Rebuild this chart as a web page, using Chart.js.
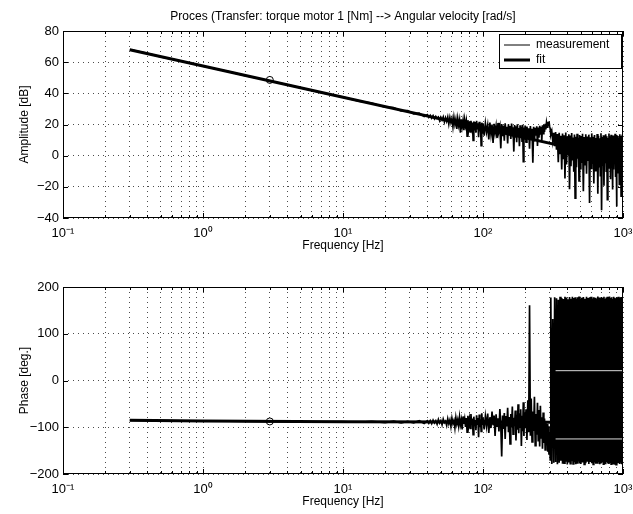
<!DOCTYPE html>
<html>
<head>
<meta charset="utf-8">
<script src="https://cdn.jsdelivr.net/npm/chart.js@4.4.1/dist/chart.umd.min.js"></script>
<style>
html, body { margin: 0; padding: 0; background: #fff; }
body { width: 633px; height: 514px; position: relative; overflow: hidden; }
canvas { position: absolute; left: 0; }
#amplitude { top: 0; }
#phase { top: 256px; }
</style>
</head>
<body>
<canvas id="amplitude" width="633" height="257"></canvas>
<canvas id="phase" width="633" height="257"></canvas>
<script>
var titleText = 'Proces (Transfer: torque motor 1 [Nm] --> Angular velocity [rad/s]';
var legendNames = ['measurement', 'fit'];

// x axis: decades with minor steps, labels 10^n
var decadeTicks = [0.1, 1, 10, 100, 1000];
var decadeLabels = ['10\u207B\u00B9', '10\u2070', '10\u00B9', '10\u00B2', '10\u00B3'];
var minorSteps = [2, 3, 4, 5, 6, 7, 8, 9];

// measured frequency response
var measFreq = [
  0.3, 0.4, 0.5, 0.7, 1, 1.5, 2, 3, 5, 7,
  10, 13, 16, 20, 23, 26, 29, 32, 35, 38,
  40, 41, 42, 43, 44, 45, 46, 47, 48, 49,
  50, 51, 52, 53, 54, 55, 56, 57, 58, 59,
  60, 61, 62, 63, 64, 65, 66, 67, 68, 69,
  70, 71, 72, 73, 74, 75, 76, 77, 78, 79,
  80, 81, 82, 83, 84, 85, 86, 87, 88, 89,
  90, 91, 92, 93, 94, 95, 96, 97, 98, 99,
  100, 102, 104, 106, 108, 110, 112, 114, 116, 118,
  120, 122, 124, 126, 128, 130, 132, 134, 136, 138,
  140, 142, 144, 146, 148, 150, 152, 154, 156, 158,
  160, 162, 164, 166, 168, 170, 172, 174, 176, 178,
  180, 182, 184, 186, 188, 190, 192, 194, 196, 198,
  200, 203, 206, 209, 212, 215, 218, 221, 224, 227,
  230, 233, 236, 239, 242, 245, 248, 251, 254, 257,
  260, 263, 266, 269, 272, 275, 278, 281, 284, 287,
  290, 293, 296, 299, 302, 305, 310, 315, 320, 325,
  330, 335, 340, 345, 350, 355, 360, 365, 370, 375,
  380, 385, 390, 395, 400, 405, 410, 415, 420, 425,
  430, 435, 440, 445, 450, 455, 460, 465, 470, 475,
  480, 485, 490, 495, 500, 507, 514, 521, 528, 535,
  542, 549, 556, 563, 570, 577, 584, 591, 598, 605,
  612, 619, 626, 633, 640, 647, 654, 661, 668, 675,
  682, 689, 696, 703, 710, 717, 724, 731, 738, 745,
  752, 759, 766, 773, 780, 787, 794, 801, 808, 815,
  822, 829, 836, 843, 850, 857, 864, 871, 878, 885,
  892, 899, 906, 913, 920, 927, 934, 941, 948, 955,
  962, 969, 976, 983, 990, 997
];

var measAmp = [
  68.0, 65.6, 63.4, 60.7, 57.4, 54.1, 51.4, 48.1, 43.5, 40.5,
  37.6, 35.0, 33.7, 31.1, 30.8, 28.7, 28.9, 26.8, 27.3, 25.2,
  26.3, 24.6, 25.9, 24.1, 25.7, 23.6, 25.2, 23.9, 24.8, 22.4,
  24.6, 22.9, 24.9, 21.6, 24.3, 22.0, 24.8, 20.3, 24.5, 21.2,
  23.9, 18.6, 24.6, 20.1, 23.4, 17.2, 23.8, 19.5, 22.9, 14.8,
  23.3, 18.7, 22.6, 16.4, 23.1, 19.2, 22.2, 12.6, 22.8, 17.5,
  21.9, 15.3, 22.4, 18.1, 21.3, 9.8, 22.0, 16.2, 21.6, 14.7,
  22.3, 17.4, 20.8, 11.9, 21.7, 15.6, 20.4, 6.5, 21.2, 14.1,
  20.7, 12.8, 20.9, 15.1, 19.6, 10.4, 21.2, 13.7, 19.9, 8.2,
  20.5, 14.6, 19.1, 11.3, 21.0, 15.9, 18.8, 4.7, 20.3, 12.5,
  19.4, 9.6, 20.8, 14.2, 18.5, 7.9, 20.1, 13.0, 19.0, 10.8,
  20.6, 15.4, 18.2, 2.6, 19.7, 12.1, 18.9, 8.7, 20.2, 13.6,
  17.8, 6.1, 19.5, 11.4, 18.4, 9.3, 19.9, -3.8, 18.1, 10.2,
  19.3, 8.6, 18.7, 11.9, 17.6, 4.4, 19.0, 10.7, 17.2, -4.6,
  18.5, 9.1, 17.9, 12.8, 18.8, 6.3, 18.0, 11.5, 19.2, 13.4,
  18.6, 9.8, 19.5, 14.1, 19.8, 15.2, 20.4, 16.8, 21.1, 18.3,
  21.8, 19.6, 22.0, 18.9, 17.2, 13.5, 15.8, 9.4, 14.6, 6.1,
  15.1, 3.8, 13.9, -4.2, 14.7, 1.5, 12.8, -8.9, 14.2, -2.3,
  13.1, -14.6, 14.9, -5.7, 12.4, 0.8, 13.8, -21.5, 12.9, -6.8,
  14.5, -3.1, 11.7, -10.4, 13.6, -27.3, 12.2, -7.5, 14.1, -1.9,
  11.5, -16.2, 13.3, -8.4, 12.6, -4.7, 14.0, -22.8, 11.9, -6.3,
  13.7, -11.6, 12.3, -2.9, 13.5, -30.4, 11.8, -8.1, 14.3, -5.2,
  12.1, -17.9, 13.2, -9.6, 11.4, -3.7, 13.9, -24.5, 12.7, -7.0,
  11.1, -12.8, 14.4, -35.1, 12.0, -6.6, 13.1, -19.3, 11.6, -4.4,
  13.8, -9.9, 12.5, -28.2, 11.3, -7.8, 14.2, -2.6, 12.4, -15.1,
  13.4, -6.9, 11.7, -21.7, 13.0, -8.8, 12.2, -3.3, 14.0, -13.7,
  11.9, -32.6, 13.3, -5.9, 12.6, -10.9, 11.2, -18.4, 13.7, -7.3,
  12.8, -25.9, 11.5, -4.1, 13.6, -11.2
];

var measPhase = [
  -85.3, -85.7, -86.0, -86.4, -86.9, -87.2, -87.5, -87.8, -88.2, -88.4,
  -88.1, -89.3, -87.4, -90.2, -86.9, -90.8, -87.6, -90.4, -86.2, -91.7,
  -86.2, -91.5, -85.7, -92.3, -84.9, -90.8, -86.1, -93.6, -83.4, -91.2,
  -85.8, -94.7, -82.6, -90.3, -86.9, -96.1, -81.8, -92.4, -84.5, -98.3,
  -80.7, -91.9, -85.2, -101.4, -79.6, -93.3, -83.8, -97.5, -78.1, -94.6,
  -84.3, -104.8, -76.9, -92.7, -82.1, -99.2, -80.5, -110.6, -75.4, -95.8,
  -83.2, -102.3, -71.8, -94.1, -81.4, -115.7, -77.3, -97.9, -84.6, -106.2,
  -74.5, -93.4, -80.1, -121.3, -72.7, -99.6, -82.9, -108.8, -70.3, -95.1,
  -79.2, -104.5, -76.6, -97.2, -70.8, -112.4, -78.5, -101.7, -66.3, -95.8,
  -75.1, -118.6, -72.4, -99.3, -80.7, -108.9, -61.2, -96.4, -162.5, -74.9,
  -103.8, -69.7, -125.3, -76.2, -98.1, -58.6, -110.7, -78.3, -135.4, -71.5,
  -100.2, -55.8, -114.9, -79.8, -97.6, -64.4, -128.1, -73.2, -105.3, -50.9,
  -112.6, -70.1, -99.7, -61.3, -140.2, -75.6, -108.4, -46.7, -118.9, -67.8,
  -102.1, -61.5, -127.4, -42.3, -110.8, 161.0, -118.3, -38.6, -131.5, -66.2,
  -107.9, -34.8, -139.6, -71.4, -116.2, -47.5, -128.7, -62.9, -141.3, -54.1,
  -122.8, -78.6, -145.7, -68.3, -133.9, -81.2, -148.4, -86.5, -139.1, -92.7,
  -152.3, -97.8, -158.6, -110.4, -169.8, 177.3, -178.6, 131.4, -176.2, 178.1,
  -174.5, 175.9, -179.3, 172.6, -175.8, 178.9, -171.4, 176.5, -178.1, 174.2,
  -176.9, 179.1, -173.6, 177.4, -179.5, 173.8, -175.2, 178.6, -177.7, 175.1,
  -172.9, 179.4, -178.3, 176.7, -174.8, 178.2, -179.1, 174.5, -176.4, 177.9,
  -173.2, 179.6, -177.5, 175.3, -178.8, 177.1, -175.6, 178.4, -179.2, 174.9,
  -176.8, 179.3, -173.9, 176.2, -178.5, 177.8, -174.4, 179.0, -177.1, 175.6,
  -179.6, 178.1, -175.3, 176.9, -178.0, 174.3, -176.5, 179.5, -174.1, 177.4,
  -179.4, 175.8, -177.6, 178.7, -173.5, 176.4, -178.9, 179.2, -176.0, 174.7,
  -179.0, 177.6, -175.1, 178.9, -177.3, 175.4, -178.6, 179.7, -174.7, 176.6,
  -179.1, 178.3, -176.3, 174.1, -177.9, 179.4, -175.5, 177.2, -178.4, 175.9,
  -179.8, 178.0, -174.2, 176.8, -177.2, 179.1, -176.6, 174.6, -178.7, 177.5,
  -175.9, 178.6, -179.3, 175.2, -177.0, 179.8
];

// fitted model
var fitFreq = [0.3, 1, 10, 100, 1000];
var fitAmp = [68, 57.5, 37.5, 17.5, -2.5];
var fitPhaseFreq = [0.3, 1, 10, 100, 330];
var fitPhase = [-85, -86.5, -88, -89, -89.5];

// small circle markers at 3 Hz
var markerFreq = [3];
var markerAmp = [48.6];
var markerPhase = [-87.6];

// light streaks across the wrapped phase block
var streakFreq = [330, 1000];
var streakLevels = [21, -125];

Chart.defaults.font.family = '"Liberation Sans", Arial, Helvetica, sans-serif';
Chart.defaults.font.size = 12;
Chart.defaults.color = '#000';

function pts(xs, ys) {
  return xs.map(function (x, i) { return { x: x, y: ys[i] }; });
}

function minusSign(v) {
  return String(v).replace('-', '\u2212');
}

function freqAxis() {
  return {
    type: 'logarithmic',
    min: 0.1,
    max: 1000,
    afterBuildTicks: function (scale) {
      var t = [];
      decadeTicks.forEach(function (d, i) {
        t.push({ value: d });
        if (i < decadeTicks.length - 1) {
          minorSteps.forEach(function (m) { t.push({ value: d * m }); });
        }
      });
      scale.ticks = t;
    },
    afterFit: function (scale) {
      scale.height = 39;
      scale.paddingLeft = 0;
      scale.paddingRight = 0;
    },
    ticks: {
      autoSkip: false,
      maxRotation: 0,
      padding: 8,
      font: { size: 13 },
      callback: function (v) {
        var i = decadeTicks.indexOf(v);
        return i < 0 ? '' : decadeLabels[i];
      }
    },
    grid: { color: 'rgba(0,0,0,0.7)', drawTicks: false },
    border: { display: false, dash: [1, 4] },
    title: { display: true, text: 'Frequency [Hz]', padding: { top: 0, bottom: 4 } }
  };
}

function valueAxis(min, max, step, label) {
  return {
    min: min,
    max: max,
    afterFit: function (scale) { scale.width = 63; },
    ticks: { stepSize: step, padding: 4, font: { size: 13 }, callback: minusSign },
    grid: { color: 'rgba(0,0,0,0.7)', drawTicks: false },
    border: { display: false, dash: [1, 4] },
    title: { display: true, text: label, padding: { top: 17, bottom: 0 } }
  };
}

// box around the axes plus inward tick marks
var framePlugin = {
  id: 'frame',
  afterDatasetsDraw: function (chart) {
    var a = chart.chartArea, ctx = chart.ctx;
    var xs = chart.scales.x, ys = chart.scales.y;
    ctx.save();
    ctx.strokeStyle = '#000';
    ctx.lineWidth = 1;
    ctx.strokeRect(a.left + 0.5, a.top + 0.5, a.right - a.left - 1, a.bottom - a.top - 1);
    ctx.beginPath();
    xs.ticks.forEach(function (t) {
      var px = Math.round(xs.getPixelForValue(t.value)) + 0.5;
      var len = decadeTicks.indexOf(t.value) >= 0 ? 5 : 3;
      ctx.moveTo(px, a.bottom); ctx.lineTo(px, a.bottom - len);
      ctx.moveTo(px, a.top); ctx.lineTo(px, a.top + len);
    });
    ys.ticks.forEach(function (t) {
      var py = Math.round(ys.getPixelForValue(t.value)) + 0.5;
      ctx.moveTo(a.left, py); ctx.lineTo(a.left + 5, py);
      ctx.moveTo(a.right, py); ctx.lineTo(a.right - 5, py);
    });
    ctx.stroke();
    ctx.restore();
  }
};

// legend in the top right corner, with a white box and border
var legendBoxPlugin = {
  id: 'legendBox',
  afterLayout: function (chart) {
    var lg = chart.legend;
    if (!lg || !lg.options.display) return;
    var a = chart.chartArea;
    lg.left = a.right - 122;
    lg.top = a.top + 5;
  },
  afterDraw: function (chart) {
    var lg = chart.legend;
    if (!lg || !lg.options.display) return;
    var a = chart.chartArea, ctx = chart.ctx;
    var rx = lg.left - 2, ry = lg.top - 2;
    ctx.save();
    ctx.fillStyle = '#fff';
    ctx.fillRect(rx, ry, a.right - 2 - rx, 34);
    ctx.strokeStyle = '#000';
    ctx.lineWidth = 1;
    ctx.strokeRect(rx + 0.5, ry + 0.5, a.right - 2 - rx, 34);
    ctx.restore();
    lg.draw();
  }
};

var titlePlugin = {
  id: 'topTitle',
  afterDraw: function (chart, args, opts) {
    if (!opts.text) return;
    var a = chart.chartArea, ctx = chart.ctx;
    ctx.save();
    ctx.font = '12px "Liberation Sans", Arial, Helvetica, sans-serif';
    ctx.fillStyle = '#000';
    ctx.textAlign = 'center';
    ctx.textBaseline = 'middle';
    ctx.fillText(opts.text, (a.left + a.right) / 2, 17);
    ctx.restore();
  }
};

new Chart(document.getElementById('amplitude'), {
  type: 'line',
  data: {
    datasets: [{
      label: 'measurement',
      data: pts(measFreq, measAmp),
      borderColor: '#000',
      borderWidth: 1.7,
      pointRadius: 0,
      pointStyle: 'line',
      pointBorderColor: '#000',
      pointBorderWidth: 1,
      order: 2
    }, {
      label: 'fit',
      data: pts(fitFreq, fitAmp),
      borderColor: '#000',
      borderWidth: 3,
      pointRadius: 0,
      pointStyle: 'line',
      pointBorderColor: '#000',
      pointBorderWidth: 3,
      order: 1
    }, {
      label: 'marker',
      data: pts(markerFreq, markerAmp),
      showLine: false,
      pointRadius: 3.5,
      pointStyle: 'circle',
      pointBorderColor: '#000',
      pointBorderWidth: 1,
      pointBackgroundColor: 'rgba(0,0,0,0)',
      order: 0
    }]
  },
  options: {
    responsive: false,
    animation: false,
    layout: { padding: { top: 31, right: 10, bottom: 0, left: 0 } },
    scales: {
      x: freqAxis(),
      y: valueAxis(-40, 80, 20, 'Amplitude [dB]')
    },
    plugins: {
      legend: {
        display: true,
        position: 'chartArea',
        align: 'start',
        labels: {
          usePointStyle: true,
          pointStyleWidth: 26,
          padding: 3,
          color: '#000',
          filter: function (item) { return legendNames.indexOf(item.text) >= 0; },
          sort: function (a, b) { return a.datasetIndex - b.datasetIndex; }
        }
      },
      tooltip: { enabled: false },
      topTitle: { text: titleText }
    }
  },
  plugins: [framePlugin, legendBoxPlugin, titlePlugin]
});

new Chart(document.getElementById('phase'), {
  type: 'line',
  data: {
    datasets: [{
      label: 'measurement',
      data: pts(measFreq, measPhase),
      borderColor: '#000',
      borderWidth: 1.7,
      pointRadius: 0,
      order: 3
    }, {
      label: 'streak 1',
      data: pts(streakFreq, [streakLevels[0], streakLevels[0]]),
      borderColor: 'rgba(255,255,255,0.85)',
      borderWidth: 1,
      pointRadius: 0,
      order: 2
    }, {
      label: 'streak 2',
      data: pts(streakFreq, [streakLevels[1], streakLevels[1]]),
      borderColor: 'rgba(255,255,255,0.85)',
      borderWidth: 1,
      pointRadius: 0,
      order: 2
    }, {
      label: 'fit',
      data: pts(fitPhaseFreq, fitPhase),
      borderColor: '#000',
      borderWidth: 3,
      pointRadius: 0,
      order: 1
    }, {
      label: 'marker',
      data: pts(markerFreq, markerPhase),
      showLine: false,
      pointRadius: 3.5,
      pointStyle: 'circle',
      pointBorderColor: '#000',
      pointBorderWidth: 1,
      pointBackgroundColor: 'rgba(0,0,0,0)',
      order: 0
    }]
  },
  options: {
    responsive: false,
    animation: false,
    layout: { padding: { top: 31, right: 10, bottom: 0, left: 0 } },
    scales: {
      x: freqAxis(),
      y: valueAxis(-200, 200, 100, 'Phase [deg.]')
    },
    plugins: {
      legend: { display: false },
      tooltip: { enabled: false }
    }
  },
  plugins: [framePlugin]
});
</script>
</body>
</html>
